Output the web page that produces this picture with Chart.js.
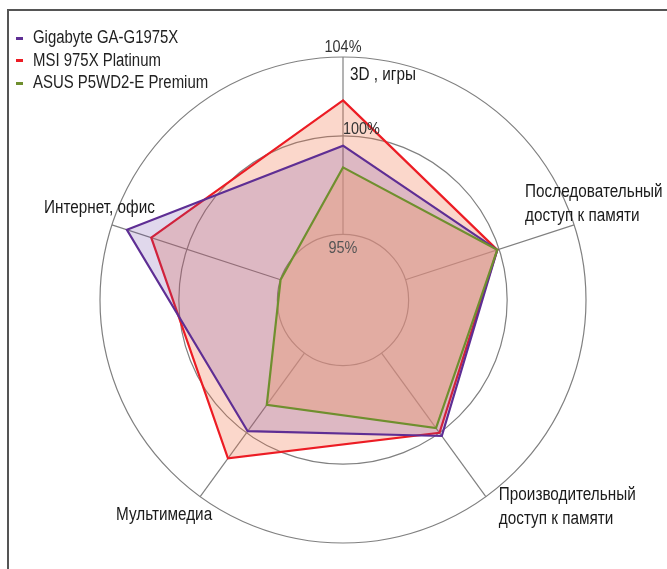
<!DOCTYPE html>
<html>
<head>
<meta charset="utf-8">
<script src="https://cdn.jsdelivr.net/npm/chart.js@4"></script>
<style>
  html, body { margin: 0; padding: 0; background: #fff; }
  #wrap { position: relative; width: 667px; height: 569px; overflow: hidden; }
  #frame { position: absolute; left: 7px; top: 9px; width: 700px; height: 600px;
           border-top: 2px solid #555; border-left: 2px solid #555; }
  canvas { position: absolute; left: 0; top: 0; }
  #legend { position: absolute; left: 16px; top: 26px; font-family: 'Liberation Sans', Arial, sans-serif;
            font-size: 18px; color: #222; line-height: 22.5px; white-space: nowrap; }
  #legend span.mk { display: inline-block; width: 7px; height: 3px; margin-right: 10px; vertical-align: middle; }
  #legend span.tx { display: inline-block; transform: scaleX(0.83); transform-origin: left center; }
</style>
</head>
<body>
<div id="wrap">
  <div id="frame"></div>
  <canvas id="radarChart" width="667" height="569"></canvas>
  <div id="legend"></div>
</div>
<script>
// Оси
const categories = ['3D , игры', 'Последовательный\nдоступ к памяти', 'Производительный\nдоступ к памяти', 'Мультимедиа', 'Интернет, офис'];
// Значения, %
const gigabyte = [99.5, 99.9, 100.2, 99.9, 103.2];
const msi = [101.8, 99.9, 100.0, 101.6, 101.9];
const asus = [98.4, 99.9, 99.7, 98.25, 95.0];
// Круги шкалы
const tickValues = [95, 100, 104];
const scaleMin = 91.67;

// смещения подписей осей относительно конца луча
const labelOffsets = [
    { dx: 7, dy: 18, align: 'left' },
    { dx: -49, dy: -33, align: 'left' },
    { dx: 13, dy: -2, align: 'left' },
    { dx: 12, dy: 18, align: 'right' },
    { dx: 43, dy: -17, align: 'right' }
];
const tickOffsets = { 95: { dy: 14, align: 'center' }, 100: { dy: -7, align: 'left' }, 104: { dy: -10, align: 'center' } };

const FONT = "'Liberation Sans', Arial, sans-serif";
const NARROW = 0.85;

// сжатый текст (узкий шрифт)
function narrowText(ctx, text, x, y) {
    ctx.save();
    ctx.translate(x, y);
    ctx.scale(NARROW, 1);
    ctx.fillText(text, 0, 0);
    ctx.restore();
}

const decorPlugin = {
    id: 'decor',
    beforeDatasetsDraw(chart) {
        const scale = chart.scales.r;
        const ctx = chart.ctx;
        const r0 = scale.getDistanceFromCenterForValue(95);
        const r1 = scale.getDistanceFromCenterForValue(104);
        ctx.save();
        ctx.strokeStyle = '#808080';
        ctx.lineWidth = 1.2;
        for (let i = 0; i < categories.length; i++) {
            const a = scale.getPointPosition(i, r0);
            const b = scale.getPointPosition(i, r1);
            ctx.beginPath();
            ctx.moveTo(a.x, a.y);
            ctx.lineTo(b.x, b.y);
            ctx.stroke();
        }
        ctx.restore();
    },
    afterDraw(chart) {
        const scale = chart.scales.r;
        const ctx = chart.ctx;
        ctx.save();
        ctx.fillStyle = '#1a1a1a';
        ctx.font = '18px ' + FONT;
        ctx.textBaseline = 'middle';
        categories.forEach((c, i) => {
            const p = scale.getPointPosition(i, scale.drawingArea);
            const o = labelOffsets[i];
            ctx.textAlign = o.align;
            c.split('\n').forEach((line, k) => {
                narrowText(ctx, line, p.x + o.dx, p.y + o.dy + k * 24);
            });
        });
        ctx.font = '17px ' + FONT;
        tickValues.forEach(v => {
            const d = scale.getDistanceFromCenterForValue(v);
            const o = tickOffsets[v];
            ctx.fillStyle = v === 95 ? '#555' : '#333';
            ctx.textAlign = o.align;
            narrowText(ctx, v + '%', scale.xCenter, scale.yCenter - d + o.dy);
        });
        ctx.restore();
    }
};

const ctx = document.getElementById('radarChart').getContext('2d');
const chart = new Chart(ctx, {
    type: 'radar',
    data: {
        labels: categories,
        datasets: [{
            label: 'Gigabyte GA-G1975X',
            data: gigabyte,
            borderColor: '#5e2e94',
            backgroundColor: 'rgba(100, 60, 160, 0.2)',
            borderWidth: 2.2,
            pointRadius: 0,
            fill: true,
            order: 1
        }, {
            label: 'MSI 975X Platinum',
            data: msi,
            borderColor: '#ec1c24',
            backgroundColor: 'rgba(240, 110, 70, 0.28)',
            borderWidth: 2.2,
            pointRadius: 0,
            fill: true,
            order: 2
        }, {
            label: 'ASUS P5WD2-E Premium',
            data: asus,
            borderColor: '#6f8f2e',
            backgroundColor: 'rgba(232, 160, 130, 0.5)',
            borderWidth: 2.2,
            pointRadius: 0,
            fill: true,
            order: 0
        }]
    },
    options: {
        responsive: false,
        animation: false,
        layout: { padding: { left: 100, top: 57, right: 81, bottom: 26 } },
        plugins: {
            legend: { display: false },
            tooltip: { enabled: false }
        },
        scales: {
            r: {
                min: scaleMin,
                max: 104,
                afterBuildTicks(scale) {
                    scale.ticks = [scaleMin].concat(tickValues).map(v => ({ value: v }));
                },
                ticks: { display: false },
                pointLabels: { display: false },
                angleLines: { display: false },
                grid: { circular: true, color: '#808080', lineWidth: 1.2 }
            }
        }
    },
    plugins: [decorPlugin]
});

// Легенда
const legend = document.getElementById('legend');
chart.data.datasets.forEach(ds => {
    const row = document.createElement('div');
    row.innerHTML = '<span class="mk" style="background:' + ds.borderColor + '"></span><span class="tx">' + ds.label + '</span>';
    legend.appendChild(row);
});
</script>
</body>
</html>
